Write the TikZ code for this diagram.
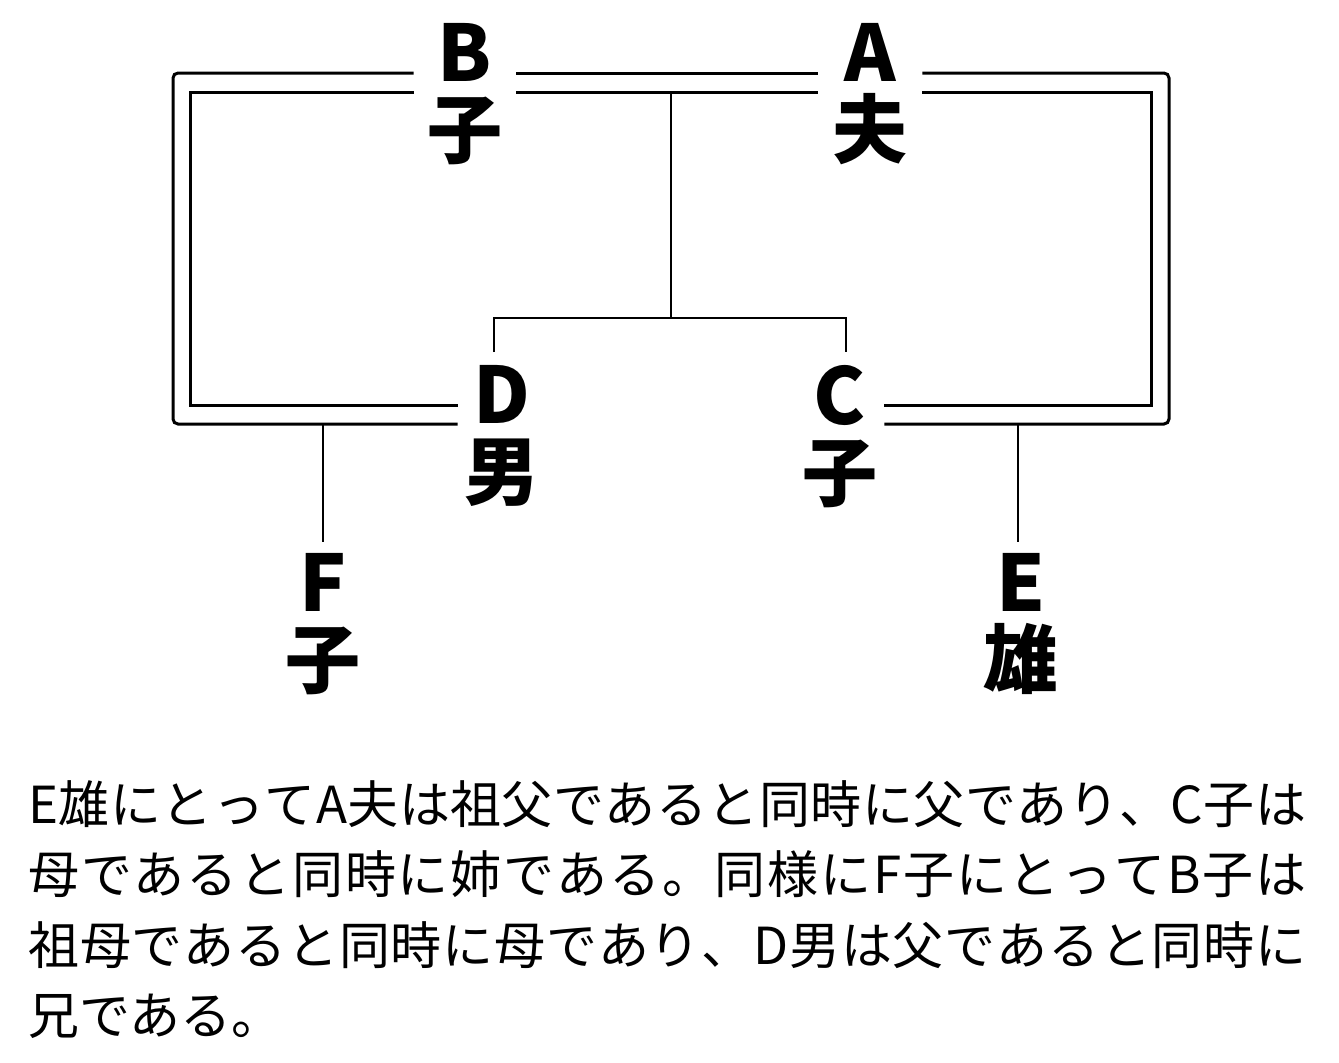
\documentclass[tikz,border=0pt]{standalone}
\usepackage{fontspec}
\newfontfamily\jp{Noto Sans CJK JP}
\makeatletter
\newcommand\spreadline[1]{\def\spr@first{1}\@tfor\spr@c:=#1\do{\ifnum\spr@first=1 \def\spr@first{0}\else\hfil\fi\spr@c}}
\makeatother
\begin{document}
\begin{tikzpicture}[x=0.5pt,y=-0.5pt,
  dbl/.style={line width=1.5pt},
  sgl/.style={line width=1.3pt},
  person/.style={anchor=north,inner sep=0pt,align=center,
    font=\jp\bfseries\fontsize{39pt}{38pt}\selectfont},
  para/.style={anchor=base west,inner sep=0pt,
    font=\jp\fontsize{25.5pt}{35pt}\selectfont}]
\fill[white] (0,0) rectangle (1339,1062);
\useasboundingbox (0,0) rectangle (1339,1062);
\newcommand\kj[1]{{\fontsize{37.5pt}{38pt}\selectfont #1}}
% people
\node[person,minimum width=51pt] (B) at (465,23) {B\\\kj{子}};
\node[person,minimum width=52pt] (A) at (870,23) {A\\\kj{夫}};
\node[person,minimum width=44pt] (D) at (502,365) {D\\\kj{男}};
\node[person,minimum width=44pt] (C) at (840,365) {C\\\kj{子}};
\node[person] (F) at (323,553) {F\\\kj{子}};
\node[person] (E) at (1021,553) {E\\\kj{雄}};
% helper coordinates
\coordinate (yo1) at (0,73);
\coordinate (yi1) at (0,92);
\coordinate (yi2) at (0,405);
\coordinate (yo2) at (0,424);
\coordinate (xLo) at (173,0);
\coordinate (xLi) at (190,0);
\coordinate (xRo) at (1169,0);
\coordinate (xRi) at (1151,0);
% marriages (double lines)
\draw[dbl] (B.east |- yo1) -- (A.west |- yo1);
\draw[dbl] (B.east |- yi1) -- (A.west |- yi1);
\draw[dbl,rounded corners=2.5pt] (B.west |- yo1) -| (xLo |- yo2) -- (D.west |- yo2);
\draw[dbl] (B.west |- yi1) -| (xLi |- yi2) -- (D.west |- yi2);
\draw[dbl,rounded corners=2.5pt] (A.east |- yo1) -| (xRo |- yo2) -- (C.east |- yo2);
\draw[dbl] (A.east |- yi1) -| (xRi |- yi2) -- (C.east |- yi2);
% children of A and B
\coordinate (m) at (671,92);
\coordinate (sib) at (671,318);
\coordinate (dx) at (494,0);
\coordinate (cx) at (846,0);
\coordinate (dtop) at ([yshift=6.5pt]D.north);
\coordinate (ctop) at ([yshift=6.5pt]C.north);
\draw[sgl] (m) -- (sib);
\draw[sgl] (dtop -| dx) |- (sib) -| (ctop -| cx);
% F and E
\coordinate (ftop) at ([yshift=5.5pt]F.north);
\coordinate (etop) at ([yshift=5.5pt,xshift=-1.5pt]E.north);
\draw[sgl] (ftop |- yo2) -- (ftop);
\draw[sgl] (etop |- yo2) -- (etop);
% text
\node[para] (t1) at (28,823) {\hbox to 639pt{\spreadline{E雄にとってA夫は祖父であると同時に父であり、C子は}}};
\node[para] (t2) at (28,893) {\hbox to 639pt{\spreadline{母であると同時に姉である。同様にF子にとってB子は}}};
\node[para] (t3) at (28,964) {\hbox to 639pt{\spreadline{祖母であると同時に母であり、D男は父であると同時に}}};
\node[para] (t4) at (28,1034) {兄である。};
\end{tikzpicture}
\end{document}
